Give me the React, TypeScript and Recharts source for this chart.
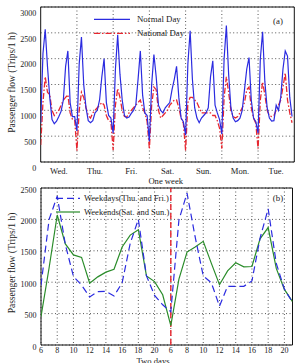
import React from 'react';
import { LineChart, Line, XAxis, YAxis, CartesianGrid, ReferenceLine, ReferenceArea } from 'recharts';

const FONT = "'Liberation Serif', 'Times New Roman', Times, serif";
const BLUE = '#2b2be0';
const RED = '#e8262f';
const GREEN = '#2a8c2a';
const GRID = '#555';

// Panel (a): one week, hourly 6h..21h per day
const weekDays = ['Wed.', 'Thu.', 'Fri.', 'Sat.', 'Sun.', 'Mon.', 'Tue.'];
const dayHours = [6, 7, 8, 9, 10, 11, 12, 13, 14, 15, 16, 17, 18, 19, 20, 21];

const normalWed = [750, 2100, 2570, 1850, 1250, 820, 740, 790, 880, 980, 1200, 1850, 2150, 1150, 880, 880];
const normalThu = [600, 1900, 2420, 1500, 1050, 800, 760, 800, 950, 1000, 1200, 1650, 2000, 1150, 900, 850];
const normalFri = [560, 1800, 2460, 1700, 1200, 900, 850, 870, 940, 1000, 1100, 1600, 2150, 1300, 950, 900];
const normalSat = [400, 1500, 2080, 1650, 1100, 1000, 950, 1050, 1100, 1150, 1400, 1600, 1850, 1250, 850, 780];
const normalSun = [520, 1900, 2540, 1600, 1050, 850, 760, 850, 900, 950, 1050, 1650, 1960, 1100, 950, 820];
const normalMon = [540, 2000, 2640, 1700, 1050, 850, 780, 800, 850, 1000, 1400, 1800, 2020, 1200, 850, 780];
const normalTue = [560, 2000, 2520, 1550, 1050, 850, 790, 800, 1100, 1000, 1250, 1800, 2150, 2050, 1250, 880];

const nationalWed = [330, 1150, 1650, 1350, 1300, 1000, 900, 950, 1000, 1100, 1200, 1250, 1300, 950, 830, 820];
const nationalThu = [220, 1000, 1350, 1250, 1050, 900, 850, 950, 1000, 1050, 1100, 1150, 1100, 900, 800, 780];
const nationalFri = [230, 1100, 1420, 1250, 1000, 880, 870, 950, 1000, 1050, 1100, 1150, 1200, 1050, 950, 780];
const nationalSat = [250, 1100, 1450, 1400, 1000, 850, 900, 950, 1000, 1100, 1150, 1200, 1200, 1050, 850, 750];
const nationalSun = [220, 1150, 1250, 1250, 1200, 1150, 1050, 950, 950, 950, 950, 950, 900, 900, 800, 650];
const nationalMon = [260, 1250, 1650, 1350, 1000, 880, 850, 880, 950, 1050, 1150, 1400, 1450, 1050, 850, 750];
const nationalTue = [250, 1200, 1550, 1300, 1000, 900, 880, 900, 1000, 1100, 1200, 1450, 1720, 1200, 950, 760];

const normalDay = [...normalWed, ...normalThu, ...normalFri, ...normalSat, ...normalSun, ...normalMon, ...normalTue];
const nationalDay = [...nationalWed, ...nationalThu, ...nationalFri, ...nationalSat, ...nationalSun, ...nationalMon, ...nationalTue];

const yTicksA = [0, 500, 1000, 1500, 2000, 2500, 3000];

// Panel (b): two days (Thu/Fri vs Sat/Sun), hourly 6h..21h
const weekdaysFlow = [950, 2000, 2370, 1600, 1090, 955, 765, 850, 855, 780, 990, 1620, 2000, 1100, 790, 640,
  530, 1990, 2420, 1720, 1100, 990, 620, 935, 935, 935, 1020, 1700, 2170, 1300, 890, 680];
const weekendsFlow = [450, 1230, 2070, 1610, 1435, 1395, 985, 1085, 1160, 1205, 1560, 1750, 1835, 1100, 1010, 800,
  310, 1050, 1480, 1560, 1650, 1300, 960, 1180, 1310, 1245, 1250, 1690, 1870, 1220, 885, 690];
const yTicksB = [0, 500, 1000, 1500, 2000, 2500];

const perDay = dayHours.length;
const weekData = normalDay.map((v, i) => ({ x: i, normal: v, national: nationalDay[i] }));
const dayBoundaries = weekDays.slice(1).map((_, k) => (k + 1) * perDay);
const dayCenters = weekDays.map((_, k) => k * perDay + perDay / 2);

const twoDayData = weekdaysFlow.map((v, i) => ({ x: i, weekdays: v, weekends: weekendsFlow[i] }));
const xTicksB = twoDayData.filter((d) => d.x % 2 === 0).map((d) => d.x);

const makeYTick = (off: number) => (props: any) => {
  const { x, y, payload } = props;
  return (
    <text x={x - 4.5} y={y + off} textAnchor="end" dominantBaseline="central" fontSize={8} fontFamily={FONT} fill="#222">
      {payload.value}
    </text>
  );
};

const DayTick = (props: any) => {
  const { x, y, payload } = props;
  const idx = dayCenters.indexOf(payload.value);
  return (
    <text x={x} y={y + 9.2} textAnchor="middle" dominantBaseline="central" fontSize={8.6} fontFamily={FONT} fill="#222">
      {weekDays[idx]}
    </text>
  );
};

const HourTick = (props: any) => {
  const { x, y, payload } = props;
  return (
    <text x={x} y={y + 5} textAnchor="middle" dominantBaseline="central" fontSize={8} fontFamily={FONT} fill="#222">
      {dayHours[payload.value % perDay]}
    </text>
  );
};

const txt = { fontFamily: FONT, fill: '#222' } as const;

export default function App() {
  return (
    <div style={{ position: 'absolute', left: 0, top: 0, width: 296, height: 363, background: '#fff', overflow: 'hidden' }}>
      <div style={{ position: 'absolute', left: 0, top: 0 }}>
        <LineChart width={296} height={185} data={weekData} margin={{ top: 7, right: 1.7, bottom: 3, left: 0 }}>
          <CartesianGrid vertical={false} stroke={GRID} strokeDasharray="1 2.5" />
          {dayBoundaries.map((b) => (
            <ReferenceLine key={b} x={b} stroke={GRID} strokeDasharray="1 2.5" />
          ))}
          <XAxis dataKey="x" type="number" domain={[0, 112]} ticks={dayCenters} interval={0}
            tick={DayTick} tickLine={false} axisLine={false} height={20} tickSize={0} tickMargin={0} allowDataOverflow />
          <YAxis type="number" domain={[0, 3000]} ticks={yTicksA} interval={0} width={40.7}
            tick={makeYTick(6.2)} tickLine={false} axisLine={false} tickSize={0} tickMargin={0} allowDataOverflow />
          <Line type="linear" dataKey="national" stroke={RED} strokeWidth={1.3} strokeDasharray="6 2 1.5 2" dot={false} isAnimationActive={false} />
          <Line type="linear" dataKey="normal" stroke={BLUE} strokeWidth={1.2} dot={false} isAnimationActive={false} />
          <ReferenceArea x1={0} x2={112} y1={0} y2={3000} fill="none" stroke="#111" strokeWidth={1} ifOverflow="visible" />
        </LineChart>
      </div>
      <div style={{ position: 'absolute', left: 0, top: 180 }}>
        <LineChart width={296} height={183} data={twoDayData} margin={{ top: 8, right: 3.5, bottom: 0, left: 0 }}>
          <CartesianGrid stroke={GRID} strokeDasharray="1 2.5" />
          <XAxis dataKey="x" type="number" domain={[0, 31]} ticks={xTicksB} interval={0}
            tick={HourTick} tickLine={false} axisLine={false} height={18} tickSize={0} tickMargin={0} allowDataOverflow />
          <YAxis type="number" domain={[0, 2500]} ticks={yTicksB} interval={0} width={41}
            tick={makeYTick(2)} tickLine={false} axisLine={false} tickSize={0} tickMargin={0} allowDataOverflow />
          <ReferenceLine x={16} stroke={RED} strokeWidth={1.4} strokeDasharray="6 3" />
          <Line type="linear" dataKey="weekends" stroke={GREEN} strokeWidth={1.2} dot={false} isAnimationActive={false} />
          <Line type="linear" dataKey="weekdays" stroke={BLUE} strokeWidth={1.2} strokeDasharray="7 4" dot={false} isAnimationActive={false} />
          <ReferenceArea x1={0} x2={31} y1={0} y2={2500} fill="none" stroke="#111" strokeWidth={1} ifOverflow="visible" />
        </LineChart>
      </div>
      <svg width={296} height={363} style={{ position: 'absolute', left: 0, top: 0, pointerEvents: 'none' }}>
        {/* Panel (a) legend */}
        <line x1={94} x2={130} y1={19.3} y2={19.3} stroke={BLUE} strokeWidth={1.2} />
        <text x={137} y={19.3} dominantBaseline="central" fontSize={8.8} {...txt}>Normal Day</text>
        <line x1={94} x2={130} y1={33.3} y2={33.3} stroke={RED} strokeWidth={1.3} strokeDasharray="6 2 1.5 2" />
        <text x={137} y={33.3} dominantBaseline="central" fontSize={8.8} {...txt}>National Day</text>
        <text x={278} y={20.7} textAnchor="middle" dominantBaseline="central" fontSize={8.8} {...txt}>(a)</text>
        <text transform="translate(11.7,82.5) rotate(-90)" textAnchor="middle" dominantBaseline="central" fontSize={9.5} {...txt}>
          Passenger flow (Trips/1 h)
        </text>
        <text x={165.7} y={181} textAnchor="middle" dominantBaseline="central" fontSize={8.6} {...txt}>One week</text>

        {/* Panel (b) legend */}
        <line x1={56} x2={80} y1={198.3} y2={198.3} stroke={BLUE} strokeWidth={1.2} strokeDasharray="7 4" />
        <text x={84} y={198.3} dominantBaseline="central" fontSize={8.5} {...txt}>Weekdays(Thu. and Fri.)</text>
        <line x1={56} x2={80} y1={212} y2={212} stroke={GREEN} strokeWidth={1.2} />
        <text x={84} y={212} dominantBaseline="central" fontSize={8.5} {...txt}>Weekends(Sat. and Sun.)</text>
        <text x={278} y={198} textAnchor="middle" dominantBaseline="central" fontSize={8.8} {...txt}>(b)</text>
        <text transform="translate(11.7,263) rotate(-90)" textAnchor="middle" dominantBaseline="central" fontSize={9.5} {...txt}>
          Passenger flow (Trips/1 h)
        </text>
        <text x={153} y={361} textAnchor="middle" dominantBaseline="central" fontSize={8.6} {...txt}>Two days</text>
      </svg>
    </div>
  );
}
